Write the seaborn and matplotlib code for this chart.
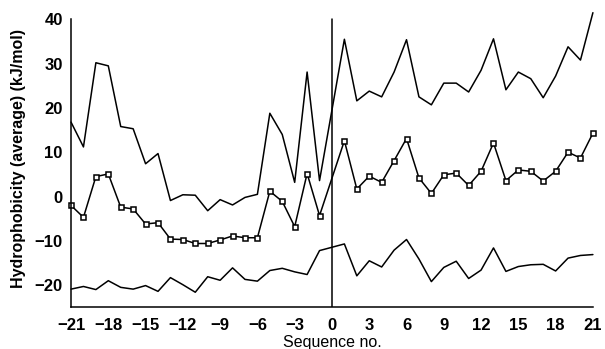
import numpy as np
import pandas as pd
import matplotlib
matplotlib.use("Agg")
import matplotlib.pyplot as plt
import seaborn as sns

# Sequence positions relative to the cleavage site (no residue 0)
positions = list(range(-21, 0)) + list(range(1, 22))

# Highest hydrophobicity at each position (kJ/mol)
maximum = [16.8, 11.2, 30.2, 29.5, 15.8, 15.3, 7.4, 9.7, -0.9, 0.4, 0.3,
           -3.2, -0.7, -1.9, -0.2, 0.5, 18.8, 14.0, 3.2, 28.1, 3.6,
           35.5, 21.6, 23.8, 22.5, 28.1, 35.4, 22.5, 20.7, 25.6, 25.6,
           23.6, 28.5, 35.6, 24.1, 28.1, 26.6, 22.3, 27.2, 33.8, 30.8, 41.5]

# Average hydrophobicity at each position (kJ/mol)
average = [-2.0, -4.7, 4.5, 5.1, -2.4, -2.8, -6.2, -5.9, -9.6, -9.7, -10.6,
           -10.6, -9.8, -8.9, -9.3, -9.3, 1.2, -1.1, -6.8, 5.2, -4.3,
           12.6, 1.7, 4.6, 3.2, 8.1, 13.1, 4.2, 0.7, 4.9, 5.3,
           2.5, 5.7, 12.1, 3.6, 6.0, 5.7, 3.5, 5.7, 10.0, 8.7, 14.3]

# Lowest hydrophobicity at each position (kJ/mol)
minimum = [-20.9, -20.3, -21.0, -19.0, -20.5, -20.9, -20.1, -21.4, -18.3, -19.9, -21.6,
           -18.1, -18.9, -16.1, -18.7, -19.1, -16.7, -16.2, -17.0, -17.6, -12.2,
           -10.7, -17.9, -14.5, -15.9, -12.1, -9.7, -14.1, -19.2, -16.0, -14.6,
           -18.5, -16.6, -11.6, -16.9, -15.8, -15.4, -15.3, -16.8, -13.9, -13.3, -13.1]

xticks = [-21, -18, -15, -12, -9, -6, -3, 0, 3, 6, 9, 12, 15, 18, 21]
yticks = [-20, -10, 0, 10, 20, 30, 40]

sns.set_theme(style="white")
plt.rcParams["font.family"] = ["Liberation Sans", "DejaVu Sans"]

df = pd.DataFrame({"pos": positions, "max": maximum, "avg": average, "min": minimum})

fig = plt.figure(figsize=(6.05, 3.49), dpi=100)
ax = fig.add_axes([0.1174, 0.1195, 0.8626, 0.8505])

ylo, yhi = -25, 42
ax.set_xlim(-21, 21)
ax.set_ylim(ylo, yhi)

sns.lineplot(data=df, x="pos", y="max", ax=ax, color="black", lw=1.1,
             clip_on=False)
sns.lineplot(data=df, x="pos", y="min", ax=ax, color="black", lw=1.1,
             clip_on=False)
sns.lineplot(data=df, x="pos", y="avg", ax=ax, color="black", lw=1.1,
             marker="s", markersize=3.6, markerfacecolor="white",
             markeredgecolor="black", markeredgewidth=1.1, clip_on=False)

# Cleavage site marker
ax.axvline(0, ymin=0, ymax=(40 - ylo) / (yhi - ylo), color="black", lw=1.1)

for side in ("top", "right"):
    ax.spines[side].set_visible(False)
ax.spines["left"].set_bounds(ylo, 40)
ax.spines["left"].set_color("black")
ax.spines["bottom"].set_color("black")
ax.spines["left"].set_linewidth(1.1)
ax.spines["bottom"].set_linewidth(1.1)

def fmt(v):
    return "\u2212" + str(abs(v)) if v < 0 else str(v)

ax.set_xticks(xticks)
ax.set_xticklabels([fmt(v) for v in xticks], fontsize=12, fontweight="bold")
ax.set_yticks(yticks)
ax.set_yticklabels([fmt(v) for v in yticks], fontsize=12, fontweight="bold")
ax.tick_params(axis="x", direction="in", length=3, width=0.8, pad=8, colors="black")
ax.tick_params(axis="y", direction="out", length=3, width=0.8, pad=3, colors="black")

ax.set_xlabel("Sequence no.", fontsize=11.5, labelpad=1, color="black")
ax.set_ylabel("Hydrophobicity (average) (kJ/mol)", fontsize=11.5,
              fontweight="bold", labelpad=6, color="black")

fig.savefig("out.png", dpi=100)
